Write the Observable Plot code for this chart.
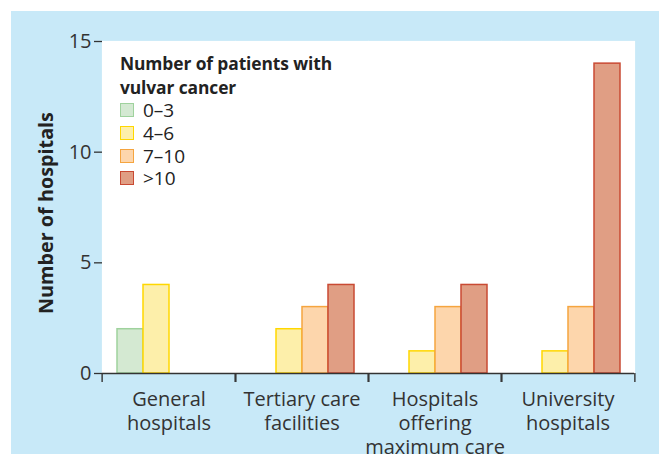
<!DOCTYPE html>
<html>
<head>
<meta charset="utf-8">
<script src="https://cdn.jsdelivr.net/npm/d3@7"></script>
<script src="https://cdn.jsdelivr.net/npm/@observablehq/plot@0.6"></script>
<style>
  html, body { margin: 0; padding: 0; background: #fff; }
  body { width: 659px; height: 454px; position: relative; overflow: hidden;
         font-family: "Open Sans", Lato, sans-serif; }
  #panel { position: absolute; left: 11px; top: 11px; width: 648px; height: 443px; background: #c8e9f8; }
  #chart { position: absolute; left: 0; top: 0; }
  #ylabel { position: absolute; left: 46px; top: 213px; transform: translate(-50%, -50%) rotate(-90deg);
            white-space: nowrap; font-weight: 700; font-size: 19.8px; line-height: 22px; color: #222; }
  #legend { position: absolute; left: 120px; top: 51px; color: #222; }
  #legend .title { font-weight: 700; font-size: 17.4px; line-height: 24px; letter-spacing: -0.1px; }
  #legend .item { display: flex; align-items: center; height: 22.7px; line-height: 22px; font-size: 19px; }
  #legend .sw { width: 12px; height: 12px; border: 1.5px solid; margin-right: 9px; }
</style>
</head>
<body>
<div id="panel"></div>
<div id="ylabel">Number of hospitals</div>
<div id="legend"></div>
<script>
// ---- data ----
const groups = ["General hospitals", "Tertiary care facilities", "Hospitals offering maximum care", "University hospitals"];
const groupLabels = ["General\nhospitals", "Tertiary care\nfacilities", "Hospitals\noffering\nmaximum care", "University\nhospitals"];
const categories = ["0–3", "4–6", "7–10", ">10"];
const counts0to3 = [2, 0, 0, 0];
const counts4to6 = [4, 2, 1, 1];
const counts7to10 = [0, 3, 3, 3];
const countsOver10 = [0, 4, 4, 14];
const yTicks = [0, 5, 10, 15];
const legendTitle = "Number of patients with\nvulvar cancer";
const yLabel = "Number of hospitals";
const fillColors = ["#d4e9d2", "#fdefaa", "#fdd6ac", "#e09e84"];
const strokeColors = ["#9fd29d", "#ffd700", "#f5a53f", "#c94a33"];

const series = [counts0to3, counts4to6, counts7to10, countsOver10];
const data = [];
categories.forEach((cat, ci) => {
  groups.forEach((g, gi) => {
    const v = series[ci][gi];
    if (v > 0) data.push({group: g, cat, value: v, fill: fillColors[ci], stroke: strokeColors[ci]});
  });
});

const W = 648, H = 443, mL = 89, mR = 24, mT = 30, mB = 81;
const band = (W - mL - mR) / groups.length;
const labelOf = d => groupLabels[groups.indexOf(d)];

const chart = Plot.plot({
  width: W, height: H,
  marginLeft: mL, marginRight: mR, marginTop: mT, marginBottom: mB,
  style: { background: "transparent", fontFamily: "'Open Sans', Lato, sans-serif", color: "#333", overflow: "visible" },
  fx: { domain: groups, padding: 0, label: null },
  x: { domain: categories, paddingInner: 0, paddingOuter: 0.48, axis: null },
  y: { domain: [0, 15], label: null },
  color: { type: "identity" },
  marks: [
    Plot.frame({ fill: "white", stroke: "white", strokeWidth: 1.2 }),
    Plot.barY(data, { fx: "group", x: "cat", y: "value", fill: "fill", stroke: "stroke", strokeWidth: 1.5 }),
    Plot.ruleY([0], { stroke: "#333", strokeWidth: 1.6 }),
    Plot.axisY({ ticks: yTicks, tickSize: 8, tickPadding: 3, line: true, stroke: "#333", strokeWidth: 1.3, fill: "#333", label: null, fontSize: 20 }),
    Plot.axisFx({ anchor: "bottom", tickSize: 9, fill: "none", stroke: "#333", strokeWidth: 1.4, dx: -band / 2 }),
    Plot.axisFx({ anchor: "bottom", tickSize: 9, fill: "none", stroke: "#333", strokeWidth: 1.4, dx: band / 2 }),
    Plot.axisFx({ anchor: "bottom", tickSize: 0, tickPadding: 15, tickFormat: labelOf, lineHeight: 1.2, fill: "#333", fontSize: 20, label: null })
  ]
});
chart.id = "chart";
document.getElementById("panel").appendChild(chart);

document.getElementById("ylabel").textContent = yLabel;
const legend = document.getElementById("legend");
const t = document.createElement("div");
t.className = "title";
t.innerHTML = legendTitle.split("\n").join("<br>");
legend.appendChild(t);
categories.forEach((c, i) => {
  const it = document.createElement("div");
  it.className = "item";
  const sw = document.createElement("span");
  sw.className = "sw";
  sw.style.background = fillColors[i];
  sw.style.borderColor = strokeColors[i];
  const lab = document.createElement("span");
  lab.textContent = c;
  it.appendChild(sw); it.appendChild(lab);
  legend.appendChild(it);
});
</script>
</body>
</html>
